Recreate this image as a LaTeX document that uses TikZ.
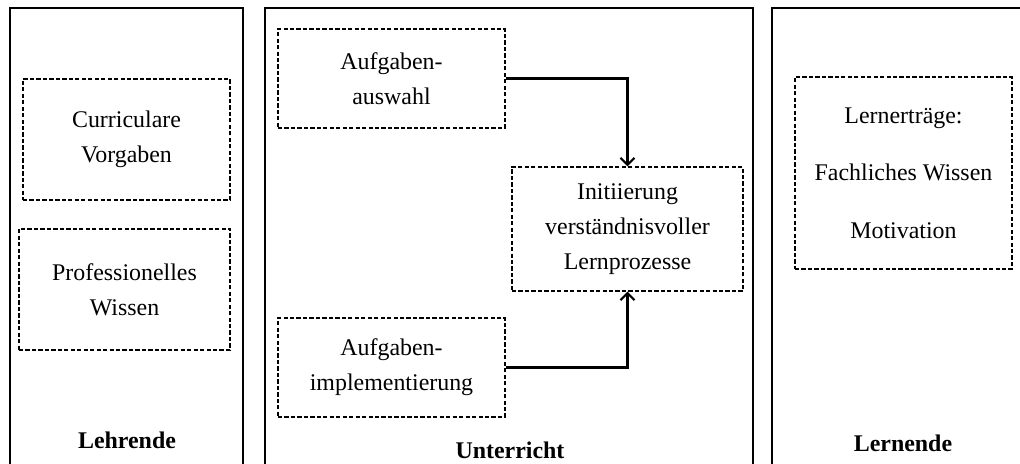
\documentclass[tikz,border=0pt]{standalone}
\usepackage{fontspec}
\setmainfont{Liberation Serif}
\usetikzlibrary{arrows}
\usetikzlibrary{arrows.meta}
\usetikzlibrary{positioning}

\tikzset{
    panel/.style={draw, line width=1.3pt},
    dbox/.style={draw, dashed, line width=0.8pt, dash pattern=on 3pt off 1.6pt, inner sep=0pt, align=center, font=\fontsize{17}{25}\selectfont},
    title/.style={inner sep=0pt, font=\fontsize{17}{25}\selectfont\bfseries},
    flow/.style={-{Straight Barb[length=5pt, width=10pt]}, line width=1.5pt}
}

\begin{document}
\begin{tikzpicture}[x=0.025cm, y=-0.025cm]
    \useasboundingbox (0, 0) rectangle (1020, 464);
    \clip (0, 0) rectangle (1020, 464);

    \draw [panel] (10, 480) -- (10, 8) -- (243, 8) -- (243, 480);
    \draw [panel] (265, 480) -- (265, 8) -- (753, 8) -- (753, 480);
    \draw [panel] (772, 480) -- (772, 8) -- (1030, 8);

    \node [dbox, minimum width=5.175cm, minimum height=3.025cm] (vorgaben) at (126.5, 139.5) {Curriculare\\Vorgaben};
    \node [dbox, minimum width=5.275cm, minimum height=3.025cm] (wissen) at (124.5, 289.5) {Professionelles\\Wissen};
    \node [title] (lehrende) at (127, 440) {Lehrende};

    \node [dbox, minimum width=5.675cm, minimum height=2.475cm] (auswahl) at (391.5, 78.5) {Aufgaben-\\auswahl};
    \node [dbox, minimum width=5.775cm, minimum height=3.1cm] (initiierung) at (627.5, 229) {Initiierung\\verständnisvoller\\Lernprozesse};
    \node [dbox, minimum width=5.675cm, minimum height=2.475cm] (implementierung) at (391.5, 367.5) {Aufgaben-\\implementierung};
    \node [title] (unterricht) at (510, 450) {Unterricht};

    \draw [flow] (auswahl.east) -| (initiierung.north);
    \draw [flow] (implementierung.east) -| (initiierung.south);

    \node [dbox, minimum width=5.425cm, minimum height=4.8cm] (ertraege) at (903.5, 173) {Lernerträge:\\[16pt]Fachliches Wissen\\[16pt]Motivation};
    \node [title] (lernende) at (903, 443) {Lernende};
\end{tikzpicture}
\end{document}
